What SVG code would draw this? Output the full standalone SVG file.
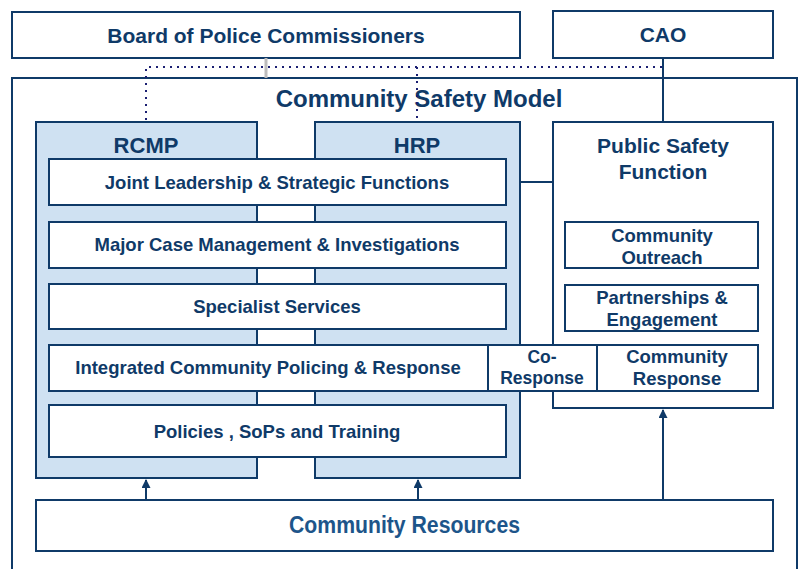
<svg xmlns="http://www.w3.org/2000/svg" width="803" height="569" viewBox="0 0 803 569">
<defs>
<style>
.box{fill:#fff;stroke:#0f3a68;stroke-width:2}
.lb{fill:#cfe1f2;stroke:#0f3a68;stroke-width:2}
.t{font-family:"Liberation Sans",Arial,Helvetica,sans-serif;font-weight:bold;fill:#0f3a68;text-anchor:middle}
.ln{stroke:#0f3a68;stroke-width:2;fill:none}
.dot{stroke:#1b1f72;stroke-width:2;stroke-dasharray:2 5;fill:none}
</style>
<marker id="ah" viewBox="0 0 10 10" refX="9" refY="5" markerWidth="10" markerHeight="9" orient="auto-start-reverse" markerUnits="userSpaceOnUse"><path d="M0,0L10,5L0,10z" fill="#0f3a68"/></marker>
</defs>
<rect width="803" height="569" fill="#fff"/>
<g id="outer">
<rect x="12" y="78" width="785" height="520" class="box"/>
<text x="419" y="107" class="t" font-size="24">Community Safety Model</text>
</g>
<g id="board">
<rect x="12" y="12" width="508" height="46" class="box"/>
<text x="266" y="43" class="t" font-size="21">Board of Police Commissioners</text>
</g>
<g id="cao">
<rect x="553" y="11" width="220" height="47" class="box"/>
<text x="663" y="42" class="t" font-size="21">CAO</text>
</g>
<g id="connectors">
<line x1="266" y1="58" x2="266" y2="78" stroke="#bdbdbd" stroke-width="3"/>
<polyline points="146,120 146,67 663,67" class="dot"/>
<line x1="417" y1="67" x2="417" y2="120" class="dot"/>
<line x1="663" y1="58" x2="663" y2="122" class="ln"/>
<line x1="506" y1="182" x2="553" y2="182" class="ln"/>
<line x1="146" y1="500" x2="146" y2="480" class="ln" marker-end="url(#ah)"/>
<line x1="418" y1="500" x2="418" y2="480" class="ln" marker-end="url(#ah)"/>
<line x1="663" y1="500" x2="663" y2="410" class="ln" marker-end="url(#ah)"/>
</g>
<g id="rcmp">
<rect x="36" y="122" width="221" height="356" class="lb"/>
<text x="146" y="152.5" class="t" font-size="22">RCMP</text>
</g>
<g id="hrp">
<rect x="315" y="122" width="205" height="356" class="lb"/>
<text x="417" y="152.5" class="t" font-size="22">HRP</text>
</g>
<g id="psf">
<rect x="553" y="122" width="220" height="286" class="box"/>
<text x="663" y="153" class="t" font-size="21">Public Safety</text>
<text x="663" y="179" class="t" font-size="21">Function</text>
</g>
<g id="joint">
<rect x="49" y="159" width="457" height="46" class="box"/>
<text x="277" y="189" class="t" font-size="18.5">Joint Leadership &amp; Strategic Functions</text>
</g>
<g id="major">
<rect x="49" y="222" width="457" height="46" class="box"/>
<text x="277" y="251" class="t" font-size="18.5">Major Case Management &amp; Investigations</text>
</g>
<g id="specialist">
<rect x="49" y="284" width="457" height="45" class="box"/>
<text x="277" y="313" class="t" font-size="18.5">Specialist Services</text>
</g>
<g id="integrated">
<rect x="49" y="345" width="439" height="46" class="box"/>
<text x="268" y="374" class="t" font-size="18.5">Integrated Community Policing &amp; Response</text>
</g>
<g id="coresponse">
<rect x="488" y="345" width="109" height="46" class="box"/>
<text x="542" y="363" class="t" font-size="17.5">Co-</text>
<text x="542" y="384" class="t" font-size="17.5">Response</text>
</g>
<g id="commresponse">
<rect x="597" y="345" width="161" height="46" class="box"/>
<text x="677" y="363" class="t" font-size="18.5">Community</text>
<text x="677" y="385" class="t" font-size="18.5">Response</text>
</g>
<g id="outreach">
<rect x="565" y="222" width="193" height="46" class="box"/>
<text x="662" y="242" class="t" font-size="18.5">Community</text>
<text x="662" y="264" class="t" font-size="18.5">Outreach</text>
</g>
<g id="partnerships">
<rect x="565" y="285" width="193" height="46" class="box"/>
<text x="662" y="304" class="t" font-size="18.5">Partnerships &amp;</text>
<text x="662" y="326" class="t" font-size="18.5">Engagement</text>
</g>
<g id="policies">
<rect x="49" y="405" width="457" height="52" class="box"/>
<text x="277" y="438" class="t" font-size="18.5">Policies , SoPs and Training</text>
</g>
<g id="resources">
<rect x="36" y="500" width="737" height="51" class="box"/>
<text x="404.5" y="533" class="t" font-size="23" textLength="231" lengthAdjust="spacingAndGlyphs" style="fill:#1d558a">Community Resources</text>
</g>
</svg>
